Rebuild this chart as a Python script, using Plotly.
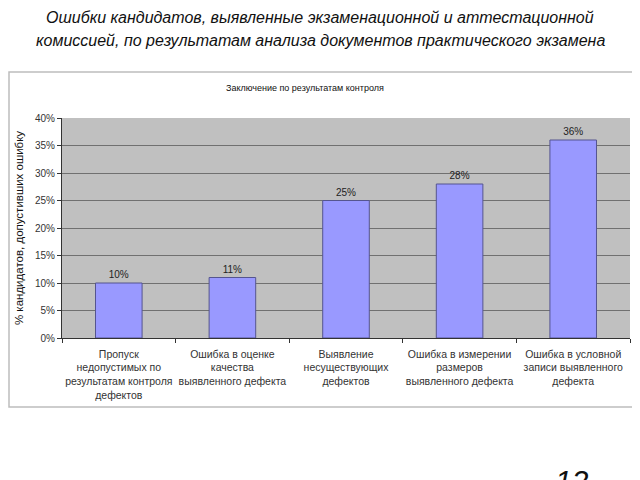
import plotly.graph_objects as go

categories = [
    "Пропуск<br>недопустимых по<br>результатам контроля<br>дефектов",
    "Ошибка в оценке<br>качества<br>выявленного дефекта",
    "Выявление<br>несуществующих<br>дефектов",
    "Ошибка в измерении<br>размеров<br>выявленного дефекта",
    "Ошибка в условной<br>записи выявленного<br>дефекта",
]
shares = [0.10, 0.11, 0.25, 0.28, 0.36]

slide_title_1 = "Ошибки кандидатов, выявленные экзаменационной и аттестационной"
slide_title_2 = "комиссией, по результатам анализа документов практического экзамена"
chart_title = "Заключение по результатам контроля"
y_title = "% кандидатов, допустивших ошибку"
page_no = "12"

# the page body has an 8px margin, so the figure is made 8px smaller
OFF = 8
W, H = 640 - OFF, 480 - OFF
# plot area on screen: x 62..630, y 118..338
L, T = 62 - OFF, 118 - OFF
R, B = W - (630 - OFF), H - (338 - OFF)
pw, ph = W - L - R, H - T - B


def px(x):
    return (x - OFF - L) / pw


def py(y):
    return (H - B - (y - OFF)) / ph


fig = go.Figure()
fig.add_trace(go.Bar(
    x=categories, y=shares, width=0.41,
    marker=dict(color="#9999FF", line=dict(color="#55558f", width=1)),
    text=[f"{v:.0%}" for v in shares], textposition="outside",
    textfont=dict(size=10, color="#222222"), cliponaxis=False,
))

font = "Liberation Sans, Arial, sans-serif"
fig.update_layout(
    width=W, height=H,
    margin=dict(l=L, r=R, t=T, b=B),
    paper_bgcolor="white", plot_bgcolor="#C0C0C0",
    font=dict(family=font, size=10, color="#222222"),
    showlegend=False,
    xaxis=dict(showline=True, linecolor="#333333", linewidth=1,
               ticks="outside", tickson="boundaries", ticklen=4,
               tickcolor="#333333", tickangle=0, automargin=False,
               ticklabelstandoff=6,
               tickfont=dict(size=10.5, color="#333333")),
    yaxis=dict(range=[0, 0.40], dtick=0.05, tickformat=".0%",
               showline=True, linecolor="#333333", ticks="outside", ticklen=4,
               tickcolor="#333333", gridcolor="#707070", gridwidth=1,
               zeroline=False, automargin=False,
               tickfont=dict(size=10, color="#333333"),
               title=dict(text=y_title, standoff=8,
                          font=dict(size=11.5, color="#111111"))),
)

fig.add_shape(type="rect", xref="paper", yref="paper",
              x0=px(9), x1=px(633), y0=py(407), y1=py(72),
              line=dict(color="#bdbdbd", width=1.5), layer="below")


def note(text, x, y, size, yanchor="middle"):
    fig.add_annotation(text=text, xref="paper", yref="paper",
                       x=px(x), y=py(y), xanchor="center", yanchor=yanchor,
                       showarrow=False, font=dict(size=size, color="#111111"))


note(f"<i>{slide_title_1}</i>", 320, 17, 16)
note(f"<i>{slide_title_2}</i>", 320, 41, 16)
note(chart_title, 305, 88, 9)
note(f"<i>{page_no}</i>", 572, 462, 30, yanchor="top")

fig.write_html("out.html")
